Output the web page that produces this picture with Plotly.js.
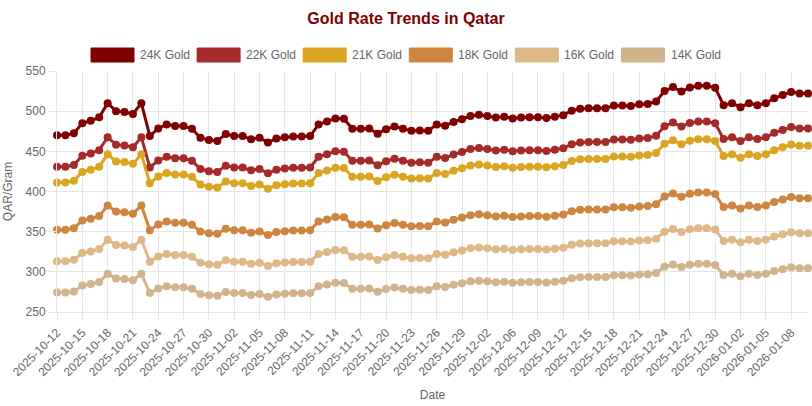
<!DOCTYPE html>
<html>
<head>
<meta charset="utf-8">
<script src="https://cdn.plot.ly/plotly-3.0.1.min.js"></script>
<style>html,body{margin:0;padding:0;background:#fff;}#chart{width:812px;height:406px;}</style>
</head>
<body>
<div id="chart"></div>
<script>
var dates = ["2025-10-12","2025-10-13","2025-10-14","2025-10-15","2025-10-16","2025-10-17","2025-10-18","2025-10-19","2025-10-20","2025-10-21",
"2025-10-22","2025-10-23","2025-10-24","2025-10-25","2025-10-26","2025-10-27","2025-10-28","2025-10-29","2025-10-30","2025-10-31",
"2025-11-01","2025-11-02","2025-11-03","2025-11-04","2025-11-05","2025-11-06","2025-11-07","2025-11-08","2025-11-09","2025-11-10",
"2025-11-11","2025-11-12","2025-11-13","2025-11-14","2025-11-15","2025-11-16","2025-11-17","2025-11-18","2025-11-19","2025-11-20",
"2025-11-21","2025-11-22","2025-11-23","2025-11-24","2025-11-25","2025-11-26","2025-11-27","2025-11-28","2025-11-29","2025-11-30",
"2025-12-01","2025-12-02","2025-12-03","2025-12-04","2025-12-06","2025-12-07","2025-12-08","2025-12-09","2025-12-10","2025-12-11",
"2025-12-12","2025-12-13","2025-12-14","2025-12-15","2025-12-16","2025-12-17","2025-12-18","2025-12-19","2025-12-20","2025-12-21",
"2025-12-22","2025-12-23","2025-12-24","2025-12-25","2025-12-26","2025-12-27","2025-12-28","2025-12-29","2025-12-30","2025-12-31",
"2026-01-01","2026-01-02","2026-01-03","2026-01-04","2026-01-05","2026-01-06","2026-01-07","2026-01-08","2026-01-09","2026-01-10"];

var tickLabels = ["2025-10-12","2025-10-15","2025-10-18","2025-10-21","2025-10-24","2025-10-27","2025-10-30","2025-11-02","2025-11-05","2025-11-08",
"2025-11-11","2025-11-14","2025-11-17","2025-11-20","2025-11-23","2025-11-26","2025-11-29","2025-12-02","2025-12-06","2025-12-09",
"2025-12-12","2025-12-15","2025-12-18","2025-12-21","2025-12-24","2025-12-27","2025-12-30","2026-01-02","2026-01-05","2026-01-08"];

var gold24 = [470,470,472.5,485,488,492.5,510,500,499,496.5, 510,469,478.5,483.5,481.5,481.5,478,467,464,463, 471.5,469,469,465,467,461,466,467.5,468.5,468.5, 469,483.5,487,491,490.5,478,478,478.5,472,477.5, 481,478,475.5,476,475.5,483.5,482,486.5,490,494, 495.5,494,492,493,491,492,492.5,492.5,491.5,493, 495,500.5,503,503.5,503.5,503.5,507,507,506.5,508.5, 509,512,525,530,524.5,529.5,531.5,531.5,529,507.5, 510,505,510,507.5,510,516,520,524,522,522];

var gold22 = [430.8,430.8,433.1,444.6,447.3,451.5,467.5,458.3,457.4,455.1, 467.5,429.9,438.6,443.2,441.4,441.4,438.2,428.1,425.3,424.4, 432.2,429.9,429.9,426.3,428.1,422.6,427.2,428.5,429.5,429.5, 429.9,443.2,446.4,450.1,449.6,438.2,438.2,438.6,432.7,437.7, 440.9,438.2,435.9,436.3,435.9,443.2,441.8,446.0,449.2,452.8, 454.2,452.8,451.0,451.9,450.1,451.0,451.5,451.5,450.5,451.9, 453.8,458.8,461.1,461.5,461.5,461.5,464.8,464.8,464.3,466.1, 466.6,469.3,481.3,485.8,480.8,485.4,487.2,487.2,484.9,465.2, 467.5,462.9,467.5,465.2,467.5,473.0,476.7,480.3,478.5,478.5];

var gold21 = [411.3,411.3,413.4,424.4,427.0,430.9,446.3,437.5,436.6,434.4, 446.3,410.4,418.7,423.1,421.3,421.3,418.3,408.6,406.0,405.1, 412.6,410.4,410.4,406.9,408.6,403.4,407.8,409.1,409.9,409.9, 410.4,423.1,426.1,429.6,429.2,418.3,418.3,418.7,413.0,417.8, 420.9,418.3,416.1,416.5,416.1,423.1,421.8,425.7,428.8,432.3, 433.6,432.3,430.5,431.4,429.6,430.5,430.9,430.9,430.1,431.4, 433.1,437.9,440.1,440.6,440.6,440.6,443.6,443.6,443.2,444.9, 445.4,448.0,459.4,463.8,458.9,463.3,465.1,465.1,462.9,444.1, 446.3,441.9,446.3,444.1,446.3,451.5,455.0,458.5,456.8,456.8];

var gold18 = [352.5,352.5,354.4,363.8,366.0,369.4,382.5,375.0,374.3,372.4, 382.5,351.8,358.9,362.6,361.1,361.1,358.5,350.3,348.0,347.3, 353.6,351.8,351.8,348.8,350.3,345.8,349.5,350.6,351.4,351.4, 351.8,362.6,365.3,368.3,367.9,358.5,358.5,358.9,354.0,358.1, 360.8,358.5,356.6,357.0,356.6,362.6,361.5,364.9,367.5,370.5, 371.6,370.5,369.0,369.8,368.3,369.0,369.4,369.4,368.6,369.8, 371.3,375.4,377.3,377.6,377.6,377.6,380.3,380.3,379.9,381.4, 381.8,384.0,393.8,397.5,393.4,397.1,398.6,398.6,396.8,380.6, 382.5,378.8,382.5,380.6,382.5,387.0,390.0,393.0,391.5,391.5];

var gold16 = [313.3,313.3,315.0,323.3,325.3,328.3,340.0,333.3,332.7,331.0, 340.0,312.7,319.0,322.3,321.0,321.0,318.7,311.3,309.3,308.7, 314.3,312.7,312.7,310.0,311.3,307.3,310.7,311.7,312.3,312.3, 312.7,322.3,324.7,327.3,327.0,318.7,318.7,319.0,314.7,318.3, 320.7,318.7,317.0,317.3,317.0,322.3,321.3,324.3,326.7,329.3, 330.3,329.3,328.0,328.7,327.3,328.0,328.3,328.3,327.7,328.7, 330.0,333.7,335.3,335.7,335.7,335.7,338.0,338.0,337.7,339.0, 339.3,341.3,350.0,353.3,349.7,353.0,354.3,354.3,352.7,338.3, 340.0,336.7,340.0,338.3,340.0,344.0,346.7,349.3,348.0,348.0];

var gold14 = [274.2,274.2,275.6,282.9,284.7,287.3,297.5,291.7,291.1,289.6, 297.5,273.6,279.1,282.0,280.9,280.9,278.8,272.4,270.7,270.1, 275.0,273.6,273.6,271.3,272.4,268.9,271.8,272.7,273.3,273.3, 273.6,282.0,284.1,286.4,286.1,278.8,278.8,279.1,275.3,278.5, 280.6,278.8,277.4,277.7,277.4,282.0,281.2,283.8,285.8,288.2, 289.0,288.2,287.0,287.6,286.4,287.0,287.3,287.3,286.7,287.6, 288.8,292.0,293.4,293.7,293.7,293.7,295.8,295.8,295.5,296.6, 296.9,298.7,306.3,309.2,306.0,308.9,310.0,310.0,308.6,296.0, 297.5,294.6,297.5,296.0,297.5,301.0,303.3,305.7,304.5,304.5];

var seriesNames = ["24K Gold","22K Gold","21K Gold","18K Gold","16K Gold","14K Gold"];
var seriesValues = [gold24, gold22, gold21, gold18, gold16, gold14];
var seriesColors = ["#800000","#A52A2A","#DAA520","#CD853F","#DEB887","#D2B48C"];

var FONT = "Liberation Sans, Arial, Helvetica, sans-serif";

var traces = seriesValues.map(function(vals, k){
  return {
    type: "scatter", mode: "lines+markers",
    x: dates, y: vals, name: seriesNames[k],
    line: {color: seriesColors[k], width: 3},
    marker: {color: seriesColors[k], size: 8},
    cliponaxis: false, showlegend: false
  };
});

// plot-area geometry (pixels) for positioning custom legend
var L = 57, R = 808, T = 71, B = 312;
function px(x){ return (x - L) / (R - L); }
function py(y){ return (B - y) / (B - T); }

var shapes = [], annotations = [];
seriesNames.forEach(function(n, k){
  var bx = 91 + k * 106.1;
  shapes.push({type: "rect", xref: "paper", yref: "paper",
    x0: px(bx), x1: px(bx + 43), y0: py(62), y1: py(48),
    fillcolor: seriesColors[k], line: {color: seriesColors[k], width: 1}});
  annotations.push({xref: "paper", yref: "paper", x: px(bx + 47), y: py(55),
    xanchor: "left", yanchor: "middle", showarrow: false, text: n,
    font: {family: FONT, size: 12, color: "#666"}});
});

var layout = {
  width: 812, height: 406,
  margin: {l: L, r: 812 - R, t: T, b: 406 - B},
  paper_bgcolor: "#fff", plot_bgcolor: "#fff",
  font: {family: FONT, size: 12, color: "#666"},
  title: {text: "<b>Gold Rate Trends in Qatar</b>", font: {family: FONT, size: 16, color: "#800000"},
          x: 0.5, xanchor: "center", y: 1 - 18/406, yanchor: "middle"},
  xaxis: {type: "category", range: [0, dates.length - 1], tickvals: tickLabels, ticktext: tickLabels,
          tickangle: -45, ticks: "outside", ticklen: 8, tickcolor: "#e5e5e5",
          showgrid: true, gridcolor: "#e5e5e5", showline: true, linecolor: "#e5e5e5",
          tickfont: {family: FONT, size: 12, color: "#666"},
          title: {text: "Date", font: {family: FONT, size: 12, color: "#666"}, standoff: 12},
          automargin: false, fixedrange: true},
  yaxis: {range: [250, 550], tick0: 250, dtick: 50, ticks: "outside", ticklen: 8, tickcolor: "#e5e5e5",
          showgrid: true, gridcolor: "#e5e5e5", showline: true, linecolor: "#e5e5e5", zeroline: false,
          tickfont: {family: FONT, size: 12, color: "#666"},
          title: {text: "QAR/Gram", font: {family: FONT, size: 12, color: "#666"}, standoff: 10},
          automargin: false, fixedrange: true},
  shapes: shapes,
  annotations: annotations,
  showlegend: false,
  hovermode: false
};

Plotly.newPlot("chart", traces, layout, {displayModeBar: false, staticPlot: true});
</script>
</body>
</html>
